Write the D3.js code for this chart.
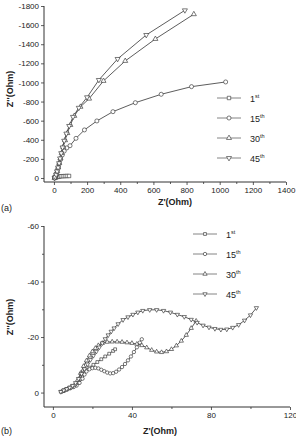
<!DOCTYPE html>
<html>
<head>
<meta charset="utf-8">
<script src="https://cdn.jsdelivr.net/npm/d3@7"></script>
<style>
  body { margin: 0; background: #fff; }
  svg { display: block; font-family: "Liberation Sans", Arial, sans-serif; }
  .tick text { font-size: 8px; fill: #222; }
  .tick line, .domain { stroke: #333; stroke-width: 0.8; }
</style>
</head>
<body>
<svg width="296" height="443"></svg>
<script>
// Cycle names shown in both legends
const cycles = ["1", "15", "30", "45"];
const suffixes = ["st", "th", "th", "th"];

// Panel (a): [Z', Z''] pairs, Ohm
const topCycle1 = [[4, 0], [12, -6], [22, -11], [32, -15], [42, -18], [54, -19], [66, -20], [78, -21], [91, -21]];
const topCycle15 = [[4, -2], [8, -15], [13, -40], [19, -75], [25, -110], [32, -150], [40, -195], [50, -240],
  [62, -282], [78, -315], [97, -338], [133, -415], [184, -503], [259, -597], [356, -694], [491, -788],
  [647, -876], [830, -956], [1036, -1005]];
const topCycle30 = [[4, 0], [9, -10], [14, -35], [20, -70], [26, -110], [32, -155], [39, -205], [47, -262],
  [56, -325], [67, -395], [81, -470], [99, -555], [123, -650], [160, -745], [212, -830], [299, -1016],
  [430, -1225], [612, -1455], [844, -1714]];
const topCycle45 = [[4, 0], [8, -10], [13, -35], [19, -70], [25, -110], [31, -155], [37, -205], [44, -260],
  [52, -320], [62, -390], [75, -465], [92, -545], [115, -640], [150, -735], [200, -845], [271, -1026],
  [384, -1246], [557, -1497], [790, -1755]];

// Panel (b): zoomed region
const lowCycle1 = [[4, -0.3], [5.5, -0.8], [7, -1.3], [8.5, -1.8], [10, -2.3], [11.5, -2.8], [13, -3.5],
  [14, -5], [15, -6.8], [16.5, -8], [18.5, -9], [20.5, -10], [22.5, -11], [24.5, -12], [26.5, -13],
  [28.5, -14], [30.5, -15], [31.5, -15.6]];
const lowCycle15 = [[4.5, -0.3], [6, -0.8], [7.5, -1.2], [9, -1.6], [10.5, -2], [12, -2.5], [13.5, -3.5],
  [15, -5], [16, -6.5], [17, -7.6], [18.5, -8.4], [20, -8.8], [21.5, -8.9], [23, -8.7], [24.5, -8.2],
  [26, -7.7], [27.5, -7.2], [29, -6.9], [30.5, -7], [32, -7.5], [33.5, -8.3], [35, -9.2], [36.5, -10.3],
  [38, -11.6], [39.5, -13], [41, -14.6], [42.5, -16.3], [44, -18], [45, -19.2]];
const lowCycle30 = [[5, -0.5], [6.5, -1], [8, -1.5], [9.5, -2], [11, -2.8], [12.5, -4.5], [14, -7],
  [15.5, -9.5], [17, -11.5], [18.5, -13.3], [20, -14.8], [21.5, -16], [23, -17], [25, -17.8], [27.5, -18.2],
  [30, -18.3], [32.5, -18.3], [35, -18.2], [37.5, -18], [40, -17.8], [42.5, -17.5], [45, -17],
  [47.5, -16.2], [50, -15.3], [52.5, -14.7], [55, -14.5], [57.5, -14.8], [60, -15.6], [62.5, -16.9],
  [65, -18.6], [67.5, -20.7], [70, -23.2], [72.5, -25.8]];
const lowCycle45 = [[4, -0.3], [5.5, -0.8], [7, -1.3], [8.5, -1.8], [10, -2.5], [11.5, -3.5], [13, -5],
  [14.5, -6.8], [16, -8.5], [17.5, -10.2], [19, -11.8], [20.5, -13.3], [22, -14.8], [23.5, -16.3],
  [25, -17.8], [26.5, -19.3], [28, -20.7], [29.5, -22], [31, -23.2], [33, -24.7], [35.5, -26.2],
  [38, -27.2], [40.5, -28.1], [43, -28.9], [45.5, -29.5], [49, -29.8], [52.5, -29.8], [56, -29.5],
  [59.5, -28.9], [63, -28.1], [66.5, -27.3], [70, -26.3], [73, -25.2], [76, -24.2], [79, -23.5],
  [82, -23], [85, -22.7], [88, -22.8], [91, -23.4], [94, -24.4], [97, -26], [100, -27.9], [103, -30.5]];

// Axis ticks
const topXTicks = [0, 200, 400, 600, 800, 1000, 1200, 1400];
const topXMinor = [100, 300, 500, 700, 900, 1100, 1300];
const topYTicks = [0, -200, -400, -600, -800, -1000, -1200, -1400, -1600, -1800];
const lowXTicks = [0, 40, 80, 120];
const lowXMinor = [20, 60, 100];
const lowYTicks = [0, -20, -40, -60];
const lowYMinor = [-10, -30, -50];

const svg = d3.select("svg");
const shapes = [
  d3.symbolSquare, d3.symbolCircle, d3.symbolTriangle, d3.symbolTriangle
];
const rotations = [0, 0, 0, 180];

const drawPanel = (cfg) => {
  const x = d3.scaleLinear().domain(cfg.xDomain).range(cfg.xRange);
  const y = d3.scaleLinear().domain(cfg.yDomain).range(cfg.yRange);
  const g = svg.append("g");

  // axes
  g.append("g")
    .attr("transform", "translate(0," + cfg.yRange[0] + ")")
    .call(d3.axisBottom(x).tickValues(cfg.xTicks).tickSize(3).tickPadding(2).tickFormat((d) => String(d)));
  g.append("g")
    .attr("transform", "translate(0," + cfg.yRange[0] + ")")
    .call(d3.axisBottom(x).tickValues(cfg.xMinor).tickSize(2).tickFormat(""));
  g.append("g")
    .attr("transform", "translate(" + cfg.xRange[0] + ",0)")
    .call(d3.axisLeft(y).tickValues(cfg.yTicks).tickSize(3).tickPadding(2).tickFormat((d) => String(d)));
  if (cfg.yMinor) {
    g.append("g")
      .attr("transform", "translate(" + cfg.xRange[0] + ",0)")
      .call(d3.axisLeft(y).tickValues(cfg.yMinor).tickSize(2).tickFormat(""));
  }
  g.selectAll(".domain").remove();
  g.append("line").attr("x1", cfg.xRange[0]).attr("x2", cfg.xRange[1])
    .attr("y1", cfg.yRange[0]).attr("y2", cfg.yRange[0]).attr("stroke", "#333").attr("stroke-width", 1);
  g.append("line").attr("x1", cfg.xRange[0]).attr("x2", cfg.xRange[0])
    .attr("y1", cfg.yRange[0]).attr("y2", cfg.yRange[1]).attr("stroke", "#333").attr("stroke-width", 1);

  // series
  const line = d3.line().x((d) => x(d[0])).y((d) => y(d[1]));
  cfg.series.forEach((s) => {
    g.append("path").datum(s)
      .attr("d", line)
      .attr("fill", "none")
      .attr("stroke", "#333")
      .attr("stroke-width", 0.8);
  });
  cfg.series.forEach((s, i) => {
    const sym = d3.symbol().type(shapes[i]).size(cfg.markSize[i]);
    g.selectAll(null).data(s).enter().append("path")
      .attr("d", sym)
      .attr("transform", (d) => "translate(" + x(d[0]) + "," + y(d[1]) + ") rotate(" + rotations[i] + ")")
      .attr("fill", "#fff")
      .attr("stroke", "#333")
      .attr("stroke-width", 0.65);
  });

  // legend
  cycles.forEach((c, i) => {
    const ly = cfg.legendY + i * cfg.legendStep;
    g.append("line").attr("x1", cfg.legendX).attr("x2", cfg.legendX + 24)
      .attr("y1", ly).attr("y2", ly).attr("stroke", "#666").attr("stroke-width", 0.8);
    g.append("path")
      .attr("d", d3.symbol().type(shapes[i]).size(cfg.markSize[i]))
      .attr("transform", "translate(" + (cfg.legendX + 12) + "," + ly + ") rotate(" + rotations[i] + ")")
      .attr("fill", "#fff").attr("stroke", "#444").attr("stroke-width", 0.7);
    const t = g.append("text").attr("x", cfg.legendX + 33).attr("y", ly + 3.5)
      .attr("font-size", 9).attr("fill", "#222").text(c);
    t.append("tspan").attr("font-size", 5.5).attr("dy", -4).text(suffixes[i]);
  });

  // labels
  g.append("text").attr("x", cfg.xLabel[0]).attr("y", cfg.xLabel[1])
    .attr("text-anchor", "middle").attr("font-size", 9).attr("font-weight", "bold").attr("fill", "#222")
    .text("Z'(Ohm)");
  g.append("text")
    .attr("transform", "translate(" + cfg.yLabel[0] + "," + cfg.yLabel[1] + ") rotate(-90)")
    .attr("text-anchor", "middle").attr("font-size", 9).attr("font-weight", "bold").attr("fill", "#222")
    .text("Z''(Ohm)");
  g.append("text").attr("x", 1).attr("y", cfg.tag[1])
    .attr("font-size", 9).attr("fill", "#222").text(cfg.tag[0]);
};

drawPanel({
  xDomain: [-60, 1400], xRange: [44, 286],
  yDomain: [42, -1800], yRange: [182, 6],
  xTicks: topXTicks, xMinor: topXMinor, yTicks: topYTicks, yMinor: null,
  series: [topCycle1, topCycle15, topCycle30, topCycle45],
  markSize: [12, 13, 11, 11],
  legendX: 217, legendY: 98, legendStep: 20,
  xLabel: [175, 205], yLabel: [13, 89], tag: ["(a)", 211]
});

drawPanel({
  xDomain: [-4.5, 120], xRange: [44, 290],
  yDomain: [5.2, -60], yRange: [407, 226],
  xTicks: lowXTicks, xMinor: lowXMinor, yTicks: lowYTicks, yMinor: lowYMinor,
  series: [lowCycle1, lowCycle15, lowCycle30, lowCycle45],
  markSize: [8, 9, 8, 8],
  legendX: 193, legendY: 234, legendStep: 20,
  xLabel: [160, 434], yLabel: [13, 317], tag: ["(b)", 434]
});
</script>
</body>
</html>
